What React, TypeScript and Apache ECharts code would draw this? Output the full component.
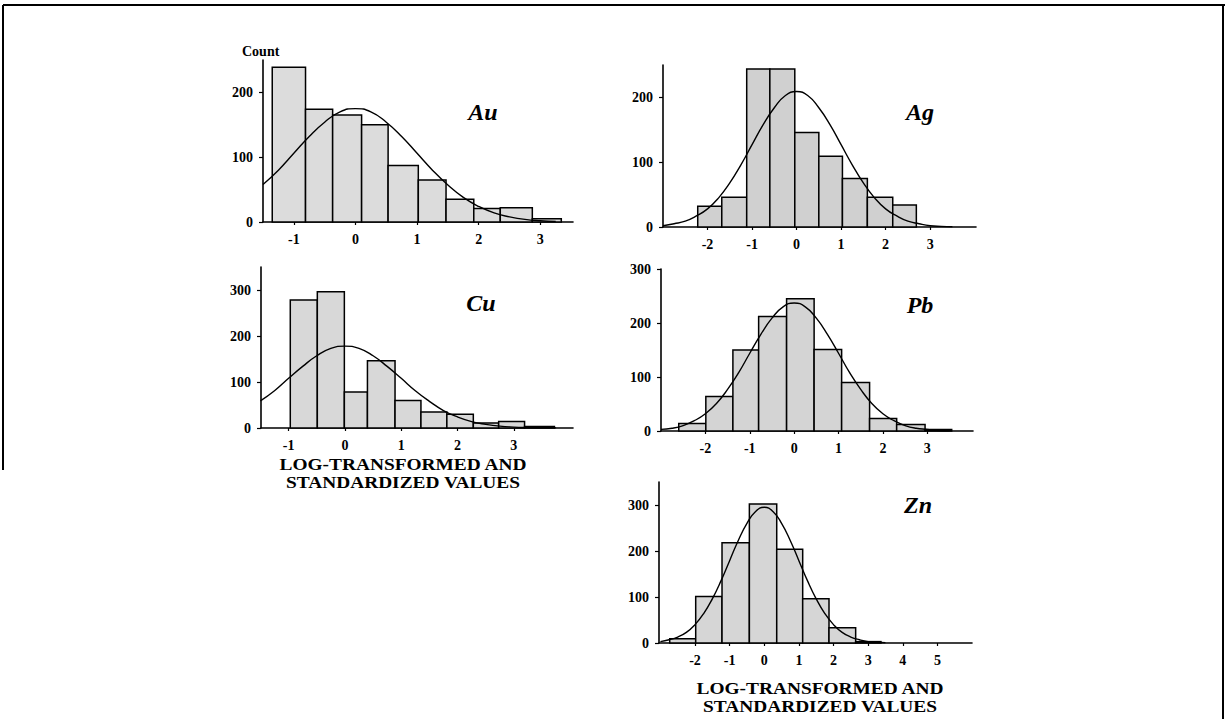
import React, { useEffect, useRef } from "react";
import * as echarts from "echarts";

// ---------- data ----------
const auEdges = [-1.35, -0.81, -0.37, 0.1, 0.53, 1.02, 1.47, 1.92, 2.35, 2.87, 3.34];
const auCounts = [239, 174, 165, 150, 87, 65, 35, 21, 22, 5];
const agEdges = [-2.22, -1.68, -1.12, -0.6, -0.04, 0.5, 1.03, 1.59, 2.16, 2.69];
const agCounts = [32, 46, 244, 244, 146, 109, 75, 46, 34];
const cuEdges = [-0.97, -0.49, -0.01, 0.4, 0.89, 1.35, 1.81, 2.28, 2.73, 3.19, 3.72];
const cuCounts = [278, 296, 78, 146, 60, 35, 30, 11, 14, 3];
const pbEdges = [-2.6, -1.99, -1.38, -0.8, -0.17, 0.45, 1.07, 1.7, 2.31, 2.95, 3.55];
const pbCounts = [14, 64, 150, 212, 245, 151, 90, 23, 12, 3];
const znEdges = [-2.73, -1.98, -1.22, -0.43, 0.36, 1.11, 1.87, 2.64, 3.37];
const znCounts = [9, 101, 218, 302, 204, 96, 33, 3];

const auCurveX = [-1.5, -1.25, -1, -0.75, -0.5, -0.25, 0, 0.25, 0.5, 0.75, 1, 1.25, 1.5, 1.75, 2, 2.25, 2.5, 2.75, 3, 3.25];
const auCurveY = [58, 80, 106, 132, 154, 170, 175, 170, 154, 132, 106, 80, 57, 38, 24, 14, 8, 4, 2, 1];
const agCurveX = [-3, -2.75, -2.5, -2.25, -2, -1.75, -1.5, -1.25, -1, -0.75, -0.5, -0.25, 0, 0.25, 0.5, 0.75, 1, 1.25, 1.5, 1.75, 2, 2.25, 2.5, 2.75, 3, 3.25, 3.5];
const agCurveY = [2, 5, 9, 17, 28, 45, 68, 96, 127, 158, 184, 203, 209, 203, 184, 158, 127, 96, 68, 45, 28, 17, 9, 5, 2, 1, 0.5];
const cuCurveX = [-1.5, -1.25, -1, -0.75, -0.5, -0.25, 0, 0.25, 0.5, 0.75, 1, 1.25, 1.5, 1.75, 2, 2.25, 2.5, 2.75, 3, 3.25, 3.5, 3.75];
const cuCurveY = [59, 81, 108, 134, 157, 173, 178, 173, 157, 134, 108, 81, 58, 38, 24, 14, 8, 4, 2, 1, 0.4, 0.2];
const pbCurveX = [-3, -2.75, -2.5, -2.25, -2, -1.75, -1.5, -1.25, -1, -0.75, -0.5, -0.25, 0, 0.25, 0.5, 0.75, 1, 1.25, 1.5, 1.75, 2, 2.25, 2.5, 2.75, 3, 3.25, 3.5];
const pbCurveY = [3, 5, 10, 19, 32, 51, 77, 108, 144, 179, 209, 230, 237, 230, 209, 179, 144, 108, 77, 51, 32, 19, 10, 5, 3, 1, 0.5];
const znCurveX = [-3, -2.75, -2.5, -2.25, -2, -1.75, -1.5, -1.25, -1, -0.75, -0.5, -0.25, 0, 0.25, 0.5, 0.75, 1, 1.25, 1.5, 1.75, 2, 2.25, 2.5, 2.75, 3, 3.25, 3.5];
const znCurveY = [3, 7, 13, 23, 40, 64, 96, 135, 179, 223, 260, 286, 295, 286, 260, 223, 179, 135, 96, 64, 40, 23, 13, 7, 3, 1.5, 0.6];

const auXTicks = [-1, 0, 1, 2, 3];
const agXTicks = [-2, -1, 0, 1, 2, 3];
const cuXTicks = [-1, 0, 1, 2, 3];
const pbXTicks = [-2, -1, 0, 1, 2, 3];
const znXTicks = [-2, -1, 0, 1, 2, 3, 4, 5];
const yTicks200 = [0, 100, 200];
const yTicks300 = [0, 100, 200, 300];

const panelNames = ["Au", "Ag", "Cu", "Pb", "Zn"];
const xTitle1 = "LOG-TRANSFORMED AND";
const xTitle2 = "STANDARDIZED VALUES";
const countLabel = "Count";

// ---------- layout ----------
const panels = [
  { edges: auEdges, counts: auCounts, cx: auCurveX, cy: auCurveY, xt: auXTicks, yt: yTicks200,
    grid: { left: 263, top: 60, width: 310, height: 162 }, xmin: -1.5, xmax: 3.53, ymax: 250, fill: "#dcdcdc",
    label: [483, 112] },
  { edges: agEdges, counts: agCounts, cx: agCurveX, cy: agCurveY, xt: agXTicks, yt: yTicks200,
    grid: { left: 663, top: 65, width: 313, height: 162 }, xmin: -3, xmax: 4.03, ymax: 250, fill: "#d0d0d0",
    label: [920, 112] },
  { edges: cuEdges, counts: cuCounts, cx: cuCurveX, cy: cuCurveY, xt: cuXTicks, yt: yTicks300,
    grid: { left: 261, top: 267, width: 312, height: 161 }, xmin: -1.49, xmax: 4.05, ymax: 350, fill: "#d8d8d8",
    label: [481, 303] },
  { edges: pbEdges, counts: pbCounts, cx: pbCurveX, cy: pbCurveY, xt: pbXTicks, yt: yTicks300,
    grid: { left: 661, top: 269, width: 312, height: 162 }, xmin: -3, xmax: 4.03, ymax: 300, fill: "#d4d4d4",
    label: [920, 305] },
  { edges: znEdges, counts: znCounts, cx: znCurveX, cy: znCurveY, xt: znXTicks, yt: yTicks300,
    grid: { left: 659, top: 482, width: 313, height: 161 }, xmin: -3.04, xmax: 6, ymax: 350, fill: "#d6d6d6",
    label: [918, 505] },
];

const FONT = "'Liberation Serif', 'Times New Roman', serif";

function buildOption() {
  const grid: any[] = [];
  const xAxis: any[] = [];
  const yAxis: any[] = [];
  const series: any[] = [];
  const axisLine = { show: true, onZero: false, lineStyle: { color: "#000", width: 1.6 } };
  const labelStyle = { color: "#000", fontFamily: FONT, fontWeight: "bold", fontSize: 14 };

  panels.forEach((p, i) => {
    grid.push({ ...p.grid, containLabel: false });
    xAxis.push({
      type: "value", gridIndex: i, min: p.xmin, max: p.xmax,
      axisLine,
      axisTick: { show: true, length: 3, customValues: p.xt, lineStyle: { color: "#000", width: 1.2 } },
      axisLabel: { ...labelStyle, margin: 10, customValues: p.xt },
      splitLine: { show: false },
    });
    yAxis.push({
      type: "value", gridIndex: i, min: 0, max: p.ymax,
      axisLine,
      axisTick: { show: true, length: 4, customValues: p.yt, lineStyle: { color: "#000", width: 1.2 } },
      axisLabel: { ...labelStyle, margin: 10, customValues: p.yt },
      splitLine: { show: false },
    });
    const barData = p.counts.map((c, k) => [p.edges[k], p.edges[k + 1], c]);
    series.push({
      type: "custom", xAxisIndex: i, yAxisIndex: i,
      data: barData,
      encode: { x: [0, 1], y: 2 },
      renderItem: (params: any, api: any) => {
        const a = api.coord([api.value(0), api.value(2)]);
        const b = api.coord([api.value(1), 0]);
        return {
          type: "rect",
          shape: { x: a[0], y: a[1], width: b[0] - a[0], height: b[1] - a[1] },
          style: { fill: p.fill, stroke: "#000", lineWidth: 1.5 },
        };
      },
      z: 2,
    });
    series.push({
      type: "line", xAxisIndex: i, yAxisIndex: i,
      data: p.cx.map((x, k) => [x, p.cy[k]]),
      smooth: true, showSymbol: false, symbol: "none",
      lineStyle: { color: "#000", width: 1.4 },
      z: 3,
    });
  });

  const graphic: any[] = [
    { type: "line", shape: { x1: 3, y1: 5, x2: 1225, y2: 5 }, style: { stroke: "#000", lineWidth: 2 } },
    { type: "line", shape: { x1: 3, y1: 5, x2: 3, y2: 470 }, style: { stroke: "#000", lineWidth: 2 } },
    { type: "line", shape: { x1: 1223, y1: 5, x2: 1223, y2: 719 }, style: { stroke: "#000", lineWidth: 2 } },
    { type: "text", x: 242, y: 51, style: { text: countLabel, fill: "#000", font: `bold 14px ${FONT}`, textAlign: "left", textVerticalAlign: "middle", align: "left", verticalAlign: "middle" } },
  ];
  panels.forEach((p, i) => {
    graphic.push({
      type: "text", x: p.label[0], y: p.label[1],
      style: { text: panelNames[i], fill: "#000", font: `italic bold 24px ${FONT}`, textAlign: "center", textVerticalAlign: "middle", align: "center", verticalAlign: "middle" },
    });
  });
  const titles = [
    [403, 464, xTitle1], [403, 482, xTitle2],
    [820, 688, xTitle1], [820, 706, xTitle2],
  ];
  titles.forEach((t) => {
    graphic.push({
      type: "text", x: t[0], y: t[1], scaleX: 1.14,
      style: { text: t[2], fill: "#000", font: `bold 17px ${FONT}`, textAlign: "center", textVerticalAlign: "middle", align: "center", verticalAlign: "middle" },
    });
  });

  return { animation: false, backgroundColor: "#fff", grid, xAxis, yAxis, series, graphic };
}

export default function App() {
  const ref = useRef<HTMLDivElement>(null);
  useEffect(() => {
    if (!ref.current) return;
    const chart = echarts.init(ref.current, null, { renderer: "svg" });
    chart.setOption(buildOption() as any);
    return () => chart.dispose();
  }, []);
  return <div ref={ref} style={{ position: "absolute", left: 0, top: 0, width: 1225, height: 719 }} />;
}
